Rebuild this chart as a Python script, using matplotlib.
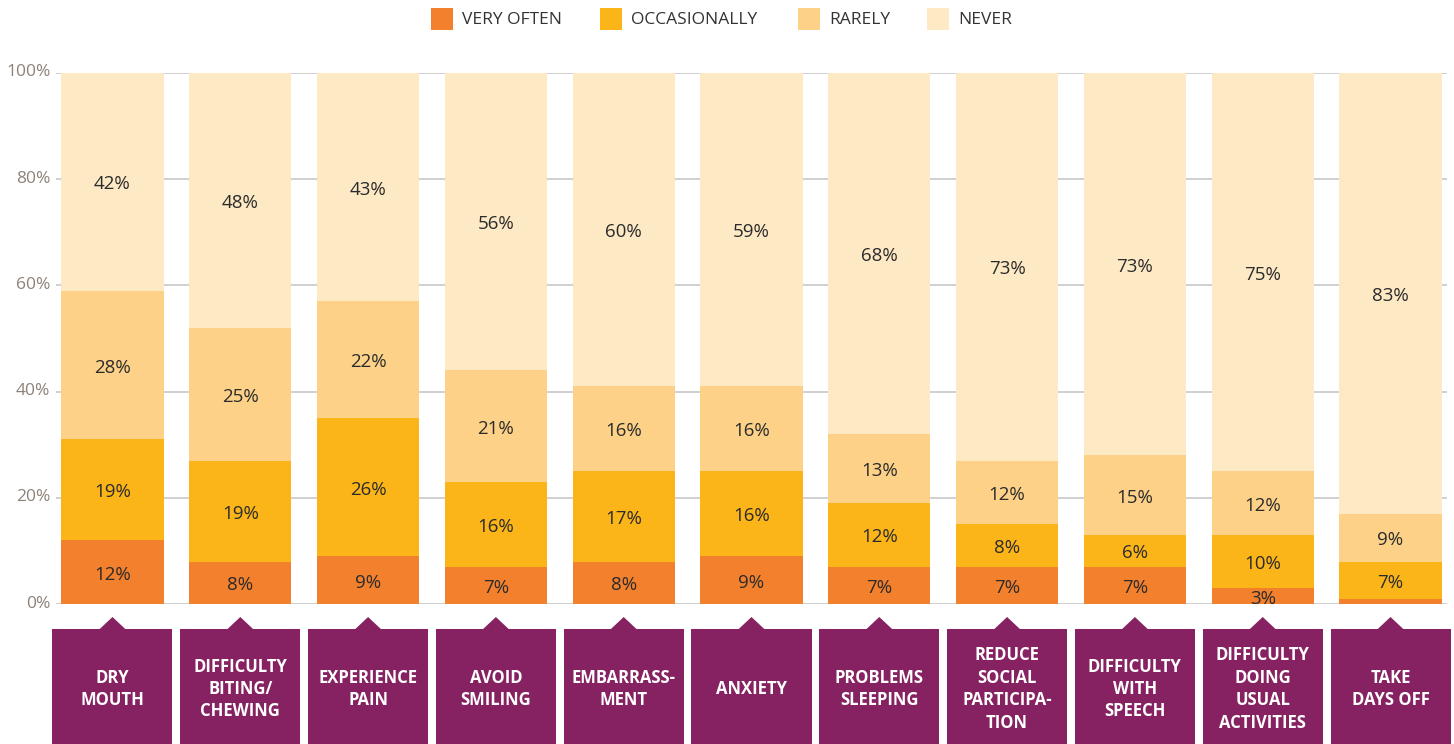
import matplotlib
matplotlib.use("Agg")
import matplotlib.pyplot as plt
import matplotlib.transforms as mtransforms
from matplotlib.patches import Rectangle, Polygon

categories = ["DRY\nMOUTH", "DIFFICULTY\nBITING/\nCHEWING", "EXPERIENCE\nPAIN",
              "AVOID\nSMILING", "EMBARRASS-\nMENT", "ANXIETY", "PROBLEMS\nSLEEPING",
              "REDUCE\nSOCIAL\nPARTICIPA-\nTION", "DIFFICULTY\nWITH\nSPEECH",
              "DIFFICULTY\nDOING\nUSUAL\nACTIVITIES", "TAKE\nDAYS OFF"]
very_often = [12, 8, 9, 7, 8, 9, 7, 7, 7, 3, 1]
occasionally = [19, 19, 26, 16, 17, 16, 12, 8, 6, 10, 7]
rarely = [28, 25, 22, 21, 16, 16, 13, 12, 15, 12, 9]
never = [42, 48, 43, 56, 60, 59, 68, 73, 73, 75, 83]
series_names = ["VERY OFTEN", "OCCASIONALLY", "RARELY", "NEVER"]
yticks = [0, 20, 40, 60, 80, 100]
ytick_labels = ["0%", "20%", "40%", "60%", "80%", "100%"]

colors = ["#F2802D", "#FBB518", "#FDD288", "#FEE9C5"]
purple = "#862262"
FONT = ["Open Sans", "DejaVu Sans"]
plt.rcParams["font.family"] = FONT

W, H = 1454, 744
fig = plt.figure(figsize=(W / 100, H / 100), dpi=100)
ax_l, ax_r, ax_t, ax_b = 56, 1447, 73, 604
ax = fig.add_axes([ax_l / W, (H - ax_b) / H, (ax_r - ax_l) / W, (ax_b - ax_t) / H])

x = list(range(len(categories)))
series = [very_often, occasionally, rarely, never]
bottoms = [0] * len(categories)
bw = 0.8
label_shift = mtransforms.offset_copy(ax.transData, fig=fig, x=0, y=-2.5, units="dots")
for s, vals in enumerate(series):
    ax.bar(x, vals, width=bw, bottom=bottoms, color=colors[s], linewidth=0, zorder=2)
    for i, v in enumerate(vals):
        top = min(bottoms[i] + v, 100)
        if v >= 3:
            ax.text(i, (bottoms[i] + top) / 2, f"{v}%", ha="center", va="center",
                    fontsize=13.5, color="#2b2b2b", zorder=3, transform=label_shift)
    bottoms = [b + v for b, v in zip(bottoms, vals)]

ax.set_xlim(-0.442, len(categories) - 1 + 0.442)
ax.set_ylim(0, 100)
ax.set_yticks(yticks)
ax.set_yticklabels(ytick_labels, fontsize=12.5, color="#8C8279")
ax.tick_params(axis="y", length=0, pad=4)
up = mtransforms.ScaledTranslation(0, 2.5 / 100, fig.dpi_scale_trans)
for lbl in ax.get_yticklabels():
    lbl.set_transform(lbl.get_transform() + up)
ax.set_xticks([])
for sp in ax.spines.values():
    sp.set_visible(False)
ax.yaxis.grid(True, color="#D0D0D0", linewidth=1.4, zorder=0)
ax.set_axisbelow(True)

# Category boxes below the axis
trans = mtransforms.blended_transform_factory(ax.transData, fig.transFigure)
box_w = 0.939
box_top = (H - 629) / H
apex = (H - 617) / H
half_notch = 0.1
for i, lab in enumerate(categories):
    fig.patches.append(Rectangle((i - box_w / 2, 0), box_w, box_top, transform=trans,
                                 facecolor=purple, edgecolor="none"))
    fig.patches.append(Polygon([(i - half_notch, box_top), (i, apex), (i + half_notch, box_top)],
                               closed=True, transform=trans, facecolor=purple, edgecolor="none"))
    fig.text(i, (H - 689) / H, lab, transform=trans, ha="center", va="center",
             fontsize=12, fontweight="bold", color="white", linespacing=1.32)

# Legend
sq_x = [431, 600, 798, 927]
for s, name in enumerate(series_names):
    fig.patches.append(Rectangle((sq_x[s] / W, (H - 30) / H), 22 / W, 22 / H,
                                 transform=fig.transFigure, facecolor=colors[s], edgecolor="none"))
    fig.text((sq_x[s] + 31) / W, (H - 20) / H, name, ha="left", va="center",
             fontsize=12.5, color="#333333")

fig.savefig("out.png", dpi=100)
